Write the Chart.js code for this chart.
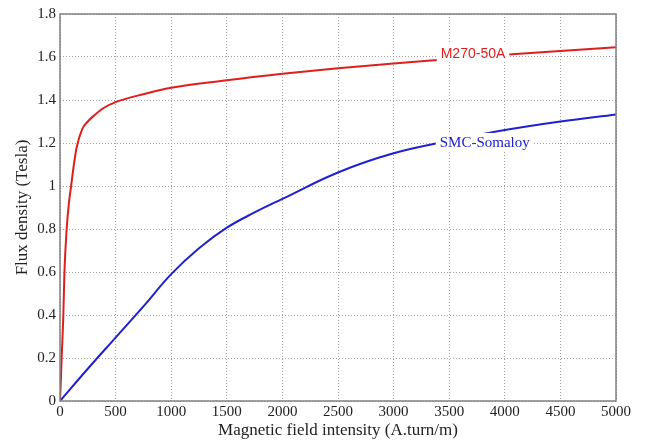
<!DOCTYPE html>
<html>
<head>
<meta charset="utf-8">
<script src="https://cdn.jsdelivr.net/npm/chart.js@4.4.0/dist/chart.umd.min.js"></script>
<style>
  html, body { margin: 0; padding: 0; background: #fff; }
  #wrap { width: 646px; height: 441px; }
</style>
</head>
<body>
<div id="wrap"><canvas id="bh"></canvas></div>
<script>
// B-H curves
const mH = [0, 8, 15, 30, 40, 60, 80, 100, 125, 150, 200, 250, 300, 400, 500, 750, 1000, 1500, 2000, 2500, 3000, 3500, 4000, 4500, 5000];
const mB = [0, 0.1, 0.2, 0.4, 0.6, 0.8, 0.92, 1.0, 1.1, 1.18, 1.265, 1.3, 1.325, 1.365, 1.39, 1.427, 1.457, 1.492, 1.522, 1.548, 1.57, 1.59, 1.61, 1.628, 1.645];
const sH = [0, 250, 500, 750, 1000, 1250, 1500, 1750, 2000, 2500, 3000, 3500, 4000, 4500, 5000];
const sB = [0, 0.15, 0.295, 0.44, 0.59, 0.71, 0.806, 0.877, 0.94, 1.063, 1.152, 1.21, 1.26, 1.3, 1.333];

const xTicks = [0, 500, 1000, 1500, 2000, 2500, 3000, 3500, 4000, 4500, 5000];
const yTicks = [0, 0.2, 0.4, 0.6, 0.8, 1, 1.2, 1.4, 1.6, 1.8];

// curve labels: text, data position, colour, font
const labels = [
  { text: 'M270-50A', x: 3714, y: 1.62, color: '#e01e1e', font: '14px "Liberation Sans"' },
  { text: 'SMC-Somaloy', x: 3820, y: 1.205, color: '#2020d0', font: '15px "Liberation Serif"' }
];

const pts = (xs, ys) => xs.map((v, i) => ({ x: v, y: ys[i] }));

const boxAndLabels = {
  id: 'boxAndLabels',
  afterDatasetsDraw(chart) {
    const { ctx, chartArea: a, scales } = chart;
    ctx.save();
    labels.forEach(l => {
      ctx.font = l.font;
      const w = ctx.measureText(l.text).width;
      const px = scales.x.getPixelForValue(l.x);
      const py = scales.y.getPixelForValue(l.y);
      ctx.fillStyle = '#fff';
      ctx.fillRect(px - w / 2 - 4, py - 9, w + 8, 18);
      ctx.fillStyle = l.color;
      ctx.textAlign = 'center';
      ctx.textBaseline = 'middle';
      ctx.fillText(l.text, px, py + 1);
    });
    ctx.strokeStyle = '#808080';
    ctx.lineWidth = 1.5;
    ctx.strokeRect(a.left, a.top, a.right - a.left, a.bottom - a.top);
    ctx.restore();
  }
};

const serif = '"Liberation Serif", "Times New Roman", serif';

new Chart(document.getElementById('bh'), {
  type: 'scatter',
  data: {
    datasets: [
      {
        label: 'M270-50A',
        data: pts(mH, mB),
        showLine: true,
        borderColor: '#e01e1e',
        borderWidth: 2,
        pointRadius: 0,
        cubicInterpolationMode: 'monotone'
      },
      {
        label: 'SMC-Somaloy',
        data: pts(sH, sB),
        showLine: true,
        borderColor: '#2020d0',
        borderWidth: 2,
        pointRadius: 0,
        tension: 0.4
      }
    ]
  },
  options: {
    responsive: true,
    maintainAspectRatio: false,
    animation: false,
    layout: { padding: { top: 14, right: 30, left: 12, bottom: 0 } },
    plugins: { legend: { display: false }, tooltip: { enabled: false } },
    scales: {
      x: {
        type: 'linear',
        min: 0, max: 5000,
        afterBuildTicks: s => { s.ticks = xTicks.map(v => ({ value: v })); },
        afterFit: s => { s.height = 40; },
        grid: { color: '#a0a0a0', drawTicks: false, lineWidth: 1 },
        border: { display: false, dash: [1, 2] },
        ticks: { color: '#222', font: { family: serif, size: 15 }, padding: 2, maxRotation: 0,
                 callback: v => String(v) },
        title: { display: true, text: 'Magnetic field intensity (A.turn/m)', color: '#222',
                 font: { family: serif, size: 17 }, padding: { top: 0, bottom: 0 } }
      },
      y: {
        type: 'linear',
        min: 0, max: 1.8,
        afterBuildTicks: s => { s.ticks = yTicks.map(v => ({ value: v })); },
        afterFit: s => { s.width = 48; },
        grid: { color: '#a0a0a0', drawTicks: false, lineWidth: 1 },
        border: { display: false, dash: [1, 2] },
        ticks: { color: '#222', font: { family: serif, size: 15 }, padding: 4,
                 callback: v => String(Math.round(v * 10) / 10) },
        title: { display: true, text: 'Flux density (Tesla)', color: '#222',
                 font: { family: serif, size: 17 }, padding: { top: 0, bottom: 2 } }
      }
    }
  },
  plugins: [boxAndLabels]
});
</script>
</body>
</html>
